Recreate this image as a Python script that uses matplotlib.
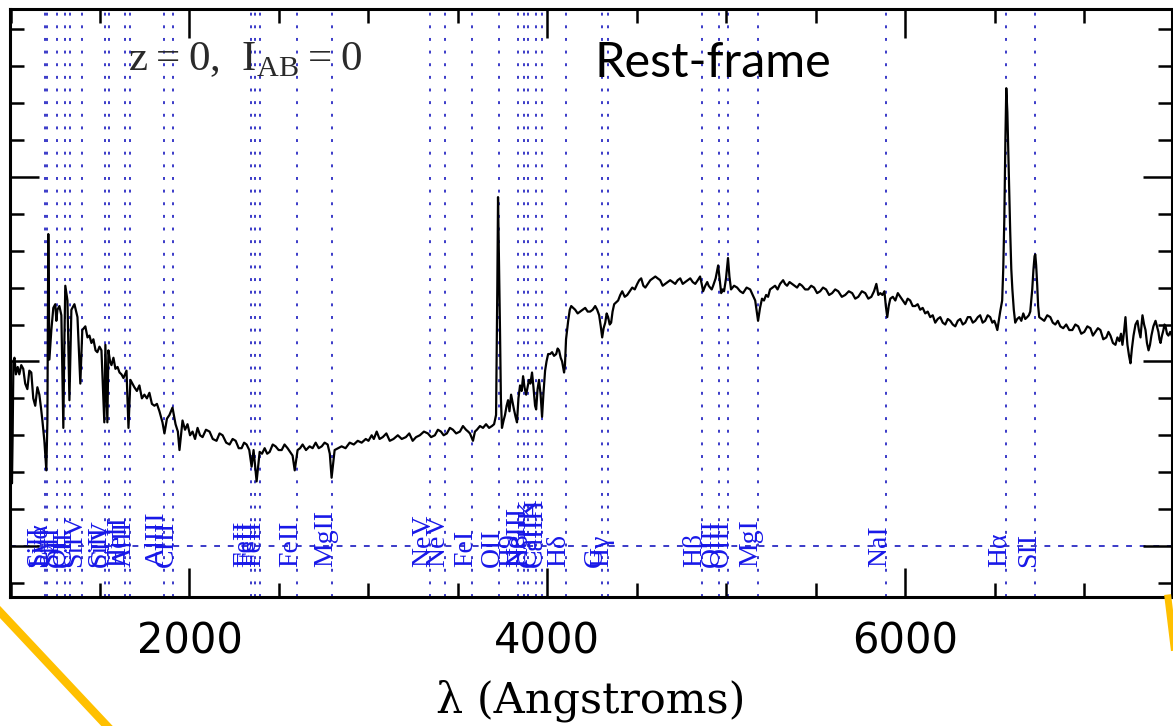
import matplotlib
matplotlib.use("Agg")
import matplotlib.pyplot as plt
from matplotlib.lines import Line2D
from matplotlib.ticker import MultipleLocator

plt.rcParams['mathtext.fontset'] = 'custom'
plt.rcParams['mathtext.rm'] = 'Liberation Serif'

# spectrum (rest-frame wavelength in Angstroms, arbitrary flux)
wave = [997, 1004, 1008, 1012, 1016, 1022, 1030, 1040, 1049, 1060, 1071, 1082, 1094, 1105, 1116, 1127,
        1138, 1150, 1161, 1170, 1178, 1189, 1200, 1206, 1211, 1217, 1228, 1239, 1250, 1256, 1262, 1273,
        1284, 1295, 1301, 1306, 1318, 1329, 1340, 1357, 1374, 1390, 1401, 1418, 1430, 1441, 1452, 1463,
        1475, 1485, 1497, 1508, 1524, 1530, 1541, 1547, 1556, 1564, 1575, 1586, 1598, 1609, 1620, 1631,
        1648, 1659, 1670, 1681, 1692, 1706, 1720, 1734, 1748, 1762, 1776, 1790, 1804, 1818, 1832, 1849,
        1860, 1874, 1888, 1905, 1922, 1935, 1944, 1961, 1975, 1989, 2003, 2017, 2031, 2045, 2059, 2073,
        2092, 2112, 2130, 2151, 2168, 2185, 2205, 2224, 2241, 2258, 2275, 2291, 2305, 2319, 2334, 2347,
        2358, 2375, 2392, 2405, 2420, 2434, 2448, 2465, 2481, 2498, 2515, 2531, 2548, 2562, 2576, 2588,
        2604, 2618, 2632, 2651, 2671, 2688, 2705, 2722, 2739, 2755, 2772, 2784, 2794, 2811, 2830, 2850,
        2872, 2895, 2918, 2940, 2962, 2985, 3000, 3018, 3030, 3046, 3062, 3080, 3100, 3119, 3140, 3164,
        3186, 3209, 3228, 3247, 3266, 3287, 3310, 3332, 3350, 3371, 3388, 3405, 3420, 3438, 3455, 3472,
        3490, 3511, 3528, 3545, 3557, 3567, 3584, 3595, 3606, 3623, 3640, 3657, 3674, 3690, 3702, 3713,
        3720, 3724, 3730, 3735, 3740, 3746, 3755, 3763, 3772, 3780, 3788, 3797, 3805, 3813, 3822, 3830,
        3838, 3847, 3856, 3864, 3872, 3881, 3889, 3897, 3905, 3914, 3922, 3931, 3937, 3945, 3953, 3962,
        3970, 3978, 3987, 3995, 4004, 4015, 4026, 4037, 4049, 4057, 4065, 4074, 4082, 4093, 4098, 4104,
        4110, 4116, 4125, 4133, 4144, 4155, 4169, 4183, 4197, 4211, 4225, 4239, 4253, 4267, 4278, 4289,
        4298, 4306, 4314, 4323, 4331, 4339, 4348, 4356, 4364, 4373, 4384, 4395, 4407, 4418, 4432, 4446,
        4460, 4474, 4488, 4502, 4513, 4524, 4536, 4547, 4561, 4575, 4589, 4603, 4616, 4630, 4644, 4658,
        4672, 4686, 4700, 4714, 4728, 4742, 4756, 4770, 4784, 4798, 4812, 4826, 4840, 4853, 4862, 4870,
        4882, 4893, 4901, 4909, 4918, 4926, 4940, 4954, 4963, 4971, 4979, 4987, 4998, 5009, 5017, 5026,
        5043, 5060, 5077, 5093, 5113, 5133, 5147, 5161, 5170, 5177, 5188, 5199, 5210, 5222, 5233, 5244,
        5258, 5272, 5286, 5300, 5317, 5328, 5339, 5353, 5367, 5381, 5395, 5409, 5423, 5440, 5457, 5474,
        5490, 5507, 5524, 5540, 5557, 5574, 5591, 5608, 5625, 5645, 5664, 5684, 5703, 5720, 5737, 5757,
        5776, 5793, 5810, 5825, 5838, 5849, 5860, 5872, 5883, 5891, 5899, 5907, 5916, 5930, 5944, 5958,
        5972, 5986, 6000, 6013, 6027, 6041, 6055, 6069, 6083, 6097, 6111, 6125, 6139, 6153, 6167, 6181,
        6195, 6209, 6223, 6237, 6251, 6265, 6279, 6293, 6307, 6321, 6335, 6349, 6363, 6377, 6391, 6405,
        6418, 6432, 6446, 6460, 6474, 6486, 6497, 6505, 6514, 6522, 6530, 6541, 6547, 6553, 6559, 6564,
        6570, 6575, 6580, 6586, 6592, 6598, 6606, 6614, 6625, 6637, 6648, 6659, 6670, 6681, 6690, 6698,
        6709, 6716, 6722, 6726, 6731, 6737, 6742, 6748, 6762, 6776, 6793, 6810, 6824, 6838, 6852, 6866,
        6882, 6899, 6916, 6933, 6950, 6966, 6983, 7000, 7017, 7034, 7048, 7062, 7076, 7090, 7106, 7123,
        7135, 7146, 7160, 7174, 7185, 7196, 7205, 7213, 7222, 7230, 7236, 7241, 7250, 7258, 7266, 7275,
        7286, 7297, 7305, 7314, 7320, 7325, 7334, 7342, 7350, 7359, 7367, 7375, 7386, 7398, 7406, 7414,
        7420, 7426, 7434, 7442, 7448, 7454, 7462, 7470, 7480, 7493]

flux = [0.75, 0.55, 0.34, 0.62, 1.00, 1.02, 0.93, 0.97, 0.93, 0.98, 0.96, 0.88, 0.85, 0.95, 0.94, 0.80,
        0.76, 0.86, 0.82, 0.75, 0.68, 0.57, 0.41, 0.68, 1.69, 1.01, 1.17, 1.29, 1.31, 1.22, 1.28, 1.30,
        1.25, 0.64, 1.12, 1.41, 1.33, 0.79, 1.28, 1.31, 1.24, 0.88, 1.17, 1.19, 1.13, 1.14, 1.10, 1.12,
        1.06, 1.05, 1.08, 1.06, 0.67, 1.09, 0.67, 1.06, 1.00, 0.98, 1.02, 0.96, 0.97, 0.94, 0.93, 0.91,
        0.95, 0.64, 0.90, 0.88, 0.86, 0.84, 0.87, 0.80, 0.82, 0.80, 0.83, 0.77, 0.76, 0.77, 0.73, 0.67,
        0.61, 0.69, 0.71, 0.75, 0.66, 0.62, 0.52, 0.68, 0.63, 0.66, 0.60, 0.62, 0.58, 0.64, 0.60, 0.59,
        0.63, 0.62, 0.58, 0.57, 0.61, 0.60, 0.56, 0.55, 0.58, 0.57, 0.53, 0.53, 0.56, 0.55, 0.52, 0.43,
        0.52, 0.35, 0.51, 0.50, 0.53, 0.50, 0.51, 0.55, 0.54, 0.52, 0.52, 0.55, 0.53, 0.51, 0.49, 0.41,
        0.52, 0.53, 0.55, 0.52, 0.54, 0.53, 0.56, 0.53, 0.54, 0.56, 0.55, 0.50, 0.37, 0.52, 0.53, 0.54,
        0.53, 0.56, 0.55, 0.57, 0.56, 0.58, 0.57, 0.60, 0.58, 0.62, 0.58, 0.59, 0.61, 0.57, 0.58, 0.60,
        0.58, 0.59, 0.61, 0.57, 0.59, 0.60, 0.62, 0.61, 0.59, 0.60, 0.63, 0.62, 0.60, 0.61, 0.64, 0.63,
        0.61, 0.62, 0.65, 0.63, 0.62, 0.61, 0.57, 0.62, 0.63, 0.65, 0.64, 0.66, 0.64, 0.65, 0.66, 0.71,
        1.40, 1.89, 1.50, 1.17, 0.80, 0.64, 0.68, 0.71, 0.76, 0.79, 0.73, 0.82, 0.78, 0.74, 0.70, 0.67,
        0.80, 0.87, 0.84, 0.92, 0.86, 0.82, 0.86, 0.90, 0.88, 0.94, 0.86, 0.76, 0.74, 0.85, 0.90, 0.82,
        0.70, 0.83, 0.95, 1.00, 1.04, 1.04, 1.05, 1.03, 1.04, 1.07, 1.06, 1.02, 1.00, 0.94, 0.98, 1.12,
        1.17, 1.22, 1.28, 1.30, 1.29, 1.28, 1.26, 1.27, 1.28, 1.29, 1.27, 1.27, 1.28, 1.30, 1.28, 1.25,
        1.19, 1.13, 1.18, 1.21, 1.26, 1.24, 1.20, 1.21, 1.27, 1.31, 1.32, 1.33, 1.36, 1.38, 1.35, 1.36,
        1.38, 1.40, 1.39, 1.42, 1.44, 1.45, 1.41, 1.40, 1.42, 1.44, 1.45, 1.46, 1.45, 1.44, 1.41, 1.42,
        1.43, 1.44, 1.43, 1.42, 1.44, 1.45, 1.42, 1.43, 1.44, 1.45, 1.43, 1.42, 1.44, 1.46, 1.42, 1.38,
        1.41, 1.43, 1.41, 1.40, 1.39, 1.41, 1.45, 1.52, 1.44, 1.37, 1.39, 1.38, 1.45, 1.56, 1.46, 1.39,
        1.41, 1.40, 1.38, 1.37, 1.40, 1.39, 1.36, 1.33, 1.27, 1.22, 1.29, 1.34, 1.33, 1.36, 1.35, 1.39,
        1.40, 1.41, 1.39, 1.42, 1.44, 1.42, 1.41, 1.43, 1.42, 1.41, 1.40, 1.42, 1.41, 1.39, 1.39, 1.41,
        1.40, 1.37, 1.38, 1.40, 1.39, 1.36, 1.37, 1.39, 1.38, 1.35, 1.36, 1.38, 1.37, 1.34, 1.35, 1.38,
        1.37, 1.34, 1.35, 1.38, 1.42, 1.36, 1.37, 1.36, 1.38, 1.30, 1.24, 1.30, 1.34, 1.35, 1.33, 1.37,
        1.35, 1.33, 1.31, 1.34, 1.33, 1.30, 1.30, 1.31, 1.28, 1.29, 1.26, 1.27, 1.24, 1.25, 1.21, 1.23,
        1.24, 1.21, 1.20, 1.23, 1.22, 1.20, 1.19, 1.22, 1.23, 1.20, 1.21, 1.24, 1.24, 1.21, 1.22, 1.24,
        1.25, 1.21, 1.22, 1.25, 1.24, 1.21, 1.22, 1.20, 1.17, 1.22, 1.27, 1.33, 1.50, 1.77, 2.20, 2.48,
        2.35, 2.15, 1.95, 1.70, 1.50, 1.39, 1.28, 1.21, 1.23, 1.24, 1.22, 1.26, 1.23, 1.24, 1.25, 1.27,
        1.39, 1.50, 1.57, 1.58, 1.52, 1.41, 1.30, 1.24, 1.23, 1.22, 1.25, 1.24, 1.21, 1.20, 1.22, 1.19,
        1.18, 1.20, 1.17, 1.17, 1.20, 1.19, 1.15, 1.16, 1.19, 1.18, 1.14, 1.16, 1.18, 1.17, 1.12, 1.13,
        1.16, 1.14, 1.10, 1.09, 1.13, 1.11, 1.15, 1.09, 1.16, 1.24, 1.15, 1.09, 1.03, 0.99, 1.07, 1.14,
        1.20, 1.22, 1.17, 1.13, 1.20, 1.25, 1.20, 1.17, 1.10, 1.06, 1.09, 1.14, 1.19, 1.22, 1.19, 1.16,
        1.12, 1.10, 1.14, 1.17, 1.20, 1.19, 1.15, 1.14, 1.16, 1.13]

# spectral line markers
line_wave = [1190, 1204, 1260, 1302, 1335, 1397, 1526, 1549, 1640, 1670, 1857, 1909,
             2344, 2367, 2393, 2600, 2798, 3346, 3426, 3581, 3727, 3833, 3869, 3889,
             3934, 3968, 4102, 4304, 4340, 4861, 4959, 5007, 5175, 5893, 6563, 6724]
line_name = ['SiII', 'Lyα', 'SiII', 'OI', 'CII', 'SiIV', 'SiII', 'CIV', 'HeII', 'AlII', 'AlIII', 'CIII',
             'FeII', 'FeII', 'FeII', 'FeII', 'MgII', 'NeV', 'NeV', 'FeI', 'OII', 'H9', 'NeIII', 'H8',
             'CaIIK', 'CaIIH', 'Hδ', 'G', 'Hγ', 'Hβ', 'OIII', 'OIII', 'MgI', 'NaI', 'Hα', 'SII']

x_ticks = [2000, 4000, 6000]

W, H = 1173, 726
fig = plt.figure(figsize=(W / 100, H / 100), dpi=100)
ax = fig.add_axes([10 / W, 1 - 597 / H, 1162 / W, 588 / H])

line_col = '#3a3ac8'
for lw_, name in zip(line_wave, line_name):
    ax.axvline(lw_, color=line_col, lw=1.4, ls=(0, (1.5, 5.0)), zorder=1)
    ax.text(lw_, -0.114, name, rotation=90, rotation_mode='anchor', ha='left', va='baseline',
            color='#1818e8', fontsize=20, family='Liberation Serif', zorder=2)
ax.axhline(0, color=line_col, lw=1.4, ls=(0, (3, 4)), zorder=1)

ax.plot(wave, flux, color='black', lw=1.6, zorder=3)

ax.set_xlim(997, 7490)
ax.set_ylim(-0.276, 2.909)
ax.set_xticks(x_ticks)
ax.xaxis.set_minor_locator(MultipleLocator(500))
ax.yaxis.set_major_locator(MultipleLocator(1))
ax.yaxis.set_minor_locator(MultipleLocator(0.2))
ax.tick_params(which='both', direction='in', top=True, right=True, width=1.8, color='black')
ax.tick_params(which='major', length=21)
ax.tick_params(which='minor', length=10)
ax.tick_params(axis='x', which='major', labelsize=30, pad=17)
ax.tick_params(axis='y', labelleft=False)
for lab in ax.get_xticklabels():
    lab.set_family('DejaVu Sans')
for sp in ax.spines.values():
    sp.set_linewidth(2.2)

ax.set_xlabel('λ (Angstroms)', fontsize=31, family='DejaVu Serif', labelpad=12)

ax.text(0.1015, 0.896, r'z$=$0,  I$_{\rm AB}$$=$0', transform=ax.transAxes, fontsize=31,
        family='Liberation Serif', color='#2a2a2a', va='baseline', ha='left')
ax.text(0.503, 0.884, 'Rest-frame', transform=ax.transAxes, fontsize=35,
        family='Lato', color='black', va='baseline', ha='left')

# yellow slide decoration in the lower corners
fig.add_artist(Line2D([0, 107 / W], [1 - 612 / H, 0], color='#FFC000', lw=6,
                      transform=fig.transFigure))
fig.add_artist(Line2D([1168 / W, 1178 / W], [1 - 598 / H, 1 - 680 / H], color='#FFC000', lw=5,
                      transform=fig.transFigure))

fig.savefig('out.png', dpi=100)
